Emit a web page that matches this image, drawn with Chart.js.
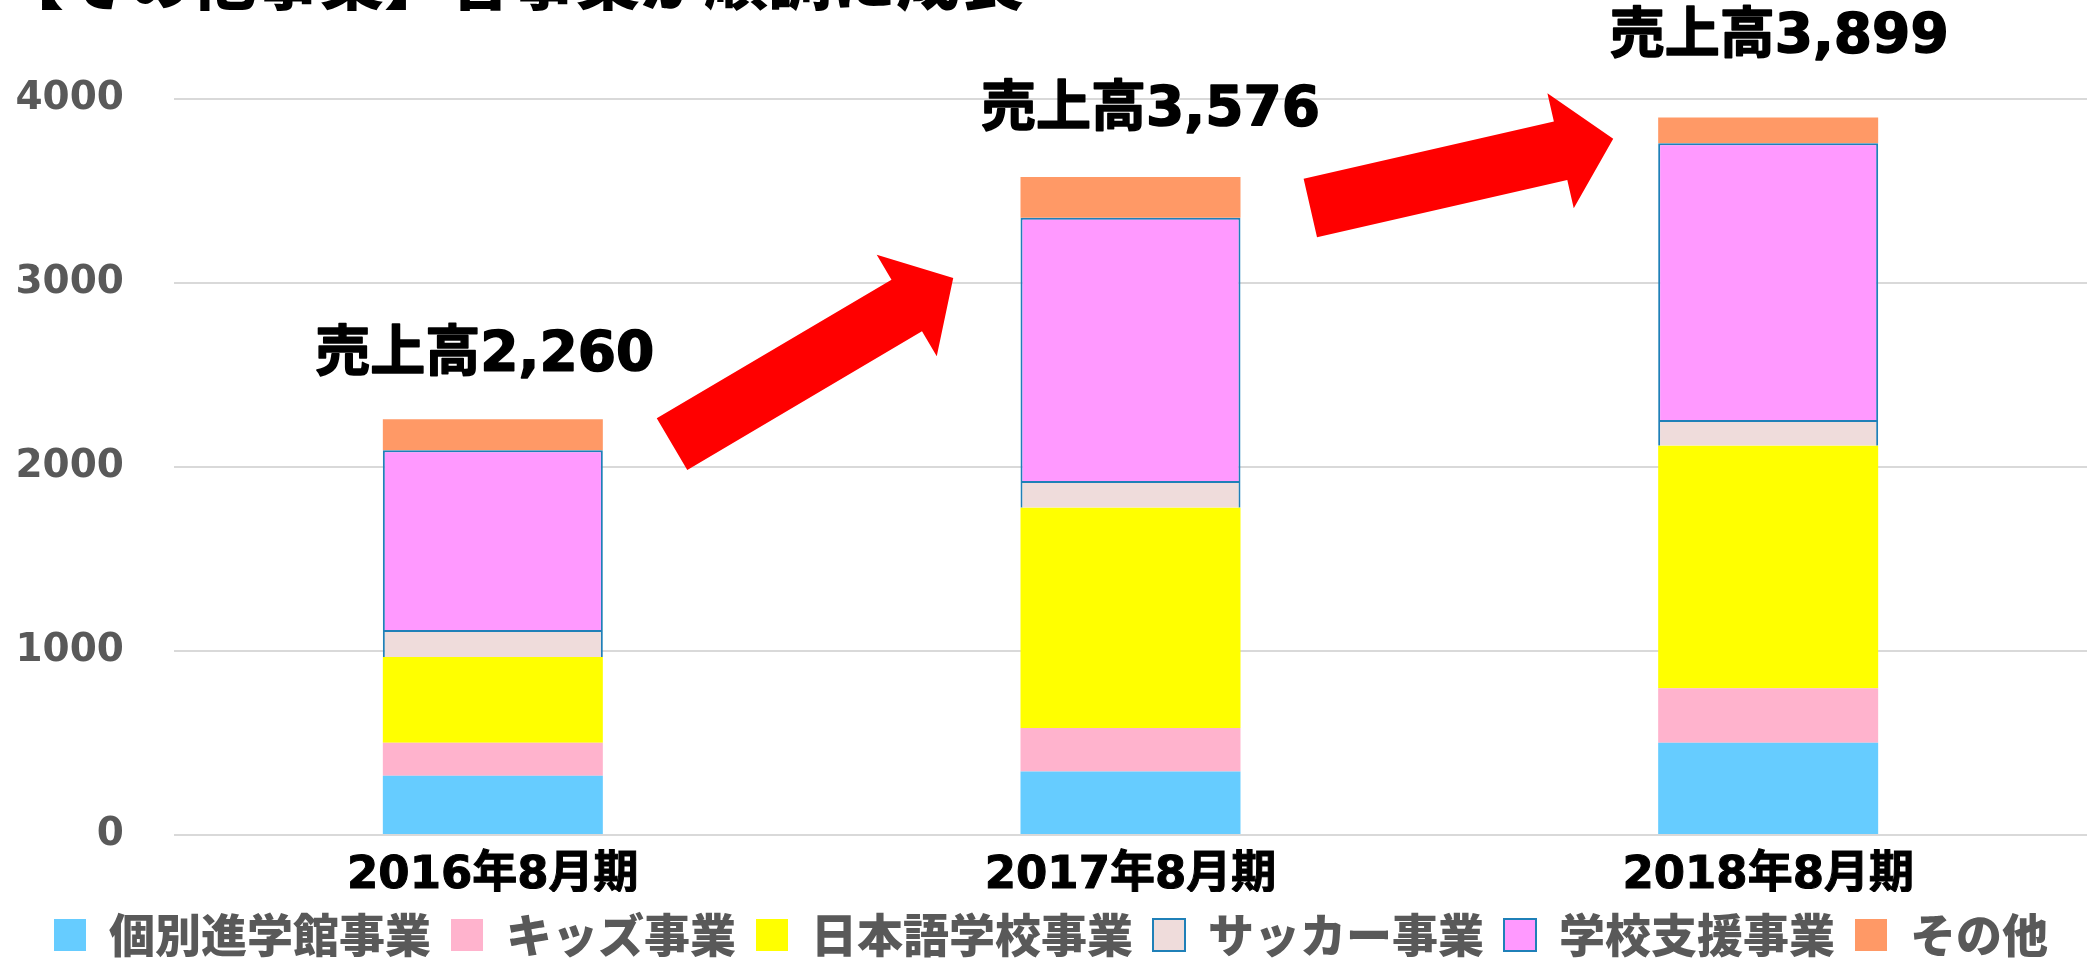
<!DOCTYPE html>
<html>
<head>
<meta charset="utf-8">
<script src="https://cdn.jsdelivr.net/npm/chart.js@4"></script>
<style>
  body { margin: 0; background: #fff; }
  #wrap { width: 2095px; height: 965px; position: relative; }
</style>
</head>
<body>
<div id="wrap"><canvas id="canvasOne"></canvas></div>
<script>
// 決算期
var periods = ['2016年8月期', '2017年8月期', '2018年8月期'];
// 事業別売上 (下から積み上げ)
var kobetsu = [322, 345, 502];
var kids = [179, 237, 296];
var nihongo = [467, 1196, 1317];
var soccer = [146, 146, 141];
var gakko = [977, 1431, 1503];
var sonota = [169, 221, 140];
var yTicks = [0, 1000, 2000, 3000, 4000];
var titleText = '【その他事業】各事業が順調に成長';
// 矢印 (カテゴリ位置, 値)
var arrowFrom = [[0.281, 2124], [1.282, 3407]];
var arrowTo = [[0.722, 3027], [1.757, 3784]];

var jpFont = '"DejaVu Sans", "Noto Sans CJK JP", sans-serif';

var totals = periods.map(function(p, i) {
  return kobetsu[i] + kids[i] + nihongo[i] + soccer[i] + gakko[i] + sonota[i];
});

var extras = {
  id: 'extras',
  afterDatasetsDraw: function(chart) {
    var ctx = chart.ctx;
    var x = chart.scales.x, y = chart.scales.y;
    ctx.save();

    // 矢印
    ctx.fillStyle = '#ff0000';
    for (var i = 0; i < arrowFrom.length; i++) {
      var x0 = x.getPixelForValue(arrowFrom[i][0]), y0 = y.getPixelForValue(arrowFrom[i][1]);
      var x1 = x.getPixelForValue(arrowTo[i][0]), y1 = y.getPixelForValue(arrowTo[i][1]);
      var len = Math.hypot(x1 - x0, y1 - y0);
      var ux = (x1 - x0) / len, uy = (y1 - y0) / len;
      var nx = -uy, ny = ux;
      var sw = 30, hw = 59, hl = 54;
      var bx = x1 - ux * hl, by = y1 - uy * hl;
      ctx.beginPath();
      ctx.moveTo(x0 + nx * sw, y0 + ny * sw);
      ctx.lineTo(bx + nx * sw, by + ny * sw);
      ctx.lineTo(bx + nx * hw, by + ny * hw);
      ctx.lineTo(x1, y1);
      ctx.lineTo(bx - nx * hw, by - ny * hw);
      ctx.lineTo(bx - nx * sw, by - ny * sw);
      ctx.lineTo(x0 - nx * sw, y0 - ny * sw);
      ctx.closePath();
      ctx.fill();
    }

    // 売上高ラベル
    var dx = [-8, 20, 11], dy = [63, 66, 80];
    ctx.fillStyle = '#000';
    ctx.strokeStyle = '#000';
    ctx.lineWidth = 1.5;
    ctx.lineJoin = 'round';
    ctx.font = 'bold 55px ' + jpFont;
    ctx.textAlign = 'center';
    ctx.textBaseline = 'middle';
    totals.forEach(function(t, i) {
      var px = x.getPixelForValue(i) + dx[i];
      var py = y.getPixelForValue(t) - dy[i];
      var s = '売上高' + t.toLocaleString('en-US');
      ctx.fillText(s, px, py);
      ctx.strokeText(s, px, py);
    });

    // 見出し (上端で切れている)
    ctx.textAlign = 'left';
    ctx.textBaseline = 'alphabetic';
    ctx.font = '900 64px "Noto Sans CJK JP", sans-serif';
    ctx.fillText(titleText, 0, 4);
    ctx.restore();
  }
};

var ctx = document.getElementById('canvasOne').getContext('2d');
var border = '#1f80b8';
var config = {
  type: 'bar',
  data: {
    labels: periods,
    datasets: [
      { label: '個別進学館事業', data: kobetsu, backgroundColor: '#66ccff', borderWidth: 0 },
      { label: 'キッズ事業', data: kids, backgroundColor: '#ffb3cd', borderWidth: 0 },
      { label: '日本語学校事業', data: nihongo, backgroundColor: '#ffff00', borderWidth: 0 },
      { label: 'サッカー事業', data: soccer, backgroundColor: '#efdcdb', borderColor: border, borderWidth: 2 },
      { label: '学校支援事業', data: gakko, backgroundColor: '#ff99ff', borderColor: border, borderWidth: 2 },
      { label: 'その他', data: sonota, backgroundColor: '#ff9966', borderWidth: 0 }
    ]
  },
  options: {
    responsive: true,
    maintainAspectRatio: false,
    animation: false,
    layout: { padding: { left: 15, right: 8, top: 99, bottom: -3 } },
    datasets: { bar: { barPercentage: 0.345, categoryPercentage: 1 } },
    scales: {
      x: {
        stacked: true,
        grid: { display: false, drawTicks: false },
        border: { display: false },
        afterFit: function(axis) { axis.height = 57; },
        ticks: {
          color: '#000', padding: 21, textStrokeColor: '#000', textStrokeWidth: 1,
          font: { size: 45, weight: 'bold', family: jpFont, lineHeight: 0.9 }
        }
      },
      y: {
        stacked: true,
        min: 0,
        max: 4000,
        afterBuildTicks: function(axis) {
          axis.ticks = yTicks.map(function(v) { return { value: v }; });
        },
        afterFit: function(axis) { axis.width = 159; },
        grid: { color: '#d9d9d9', lineWidth: 2, drawTicks: false },
        border: { display: false },
        ticks: {
          color: '#595959', padding: 50,
          callback: function(v) { return String(v); },
          font: { size: 39, weight: 'bold', family: '"DejaVu Sans", sans-serif' }
        }
      }
    },
    plugins: {
      tooltip: { enabled: false },
      legend: {
        position: 'bottom',
        labels: {
          boxWidth: 32,
          boxHeight: 32,
          padding: 20,
          color: '#595959',
          font: { size: 46, weight: '900', family: '"Noto Sans CJK JP", sans-serif' }
        }
      }
    }
  },
  plugins: [extras]
};

var chart = new Chart(ctx, config);
</script>
</body>
</html>
